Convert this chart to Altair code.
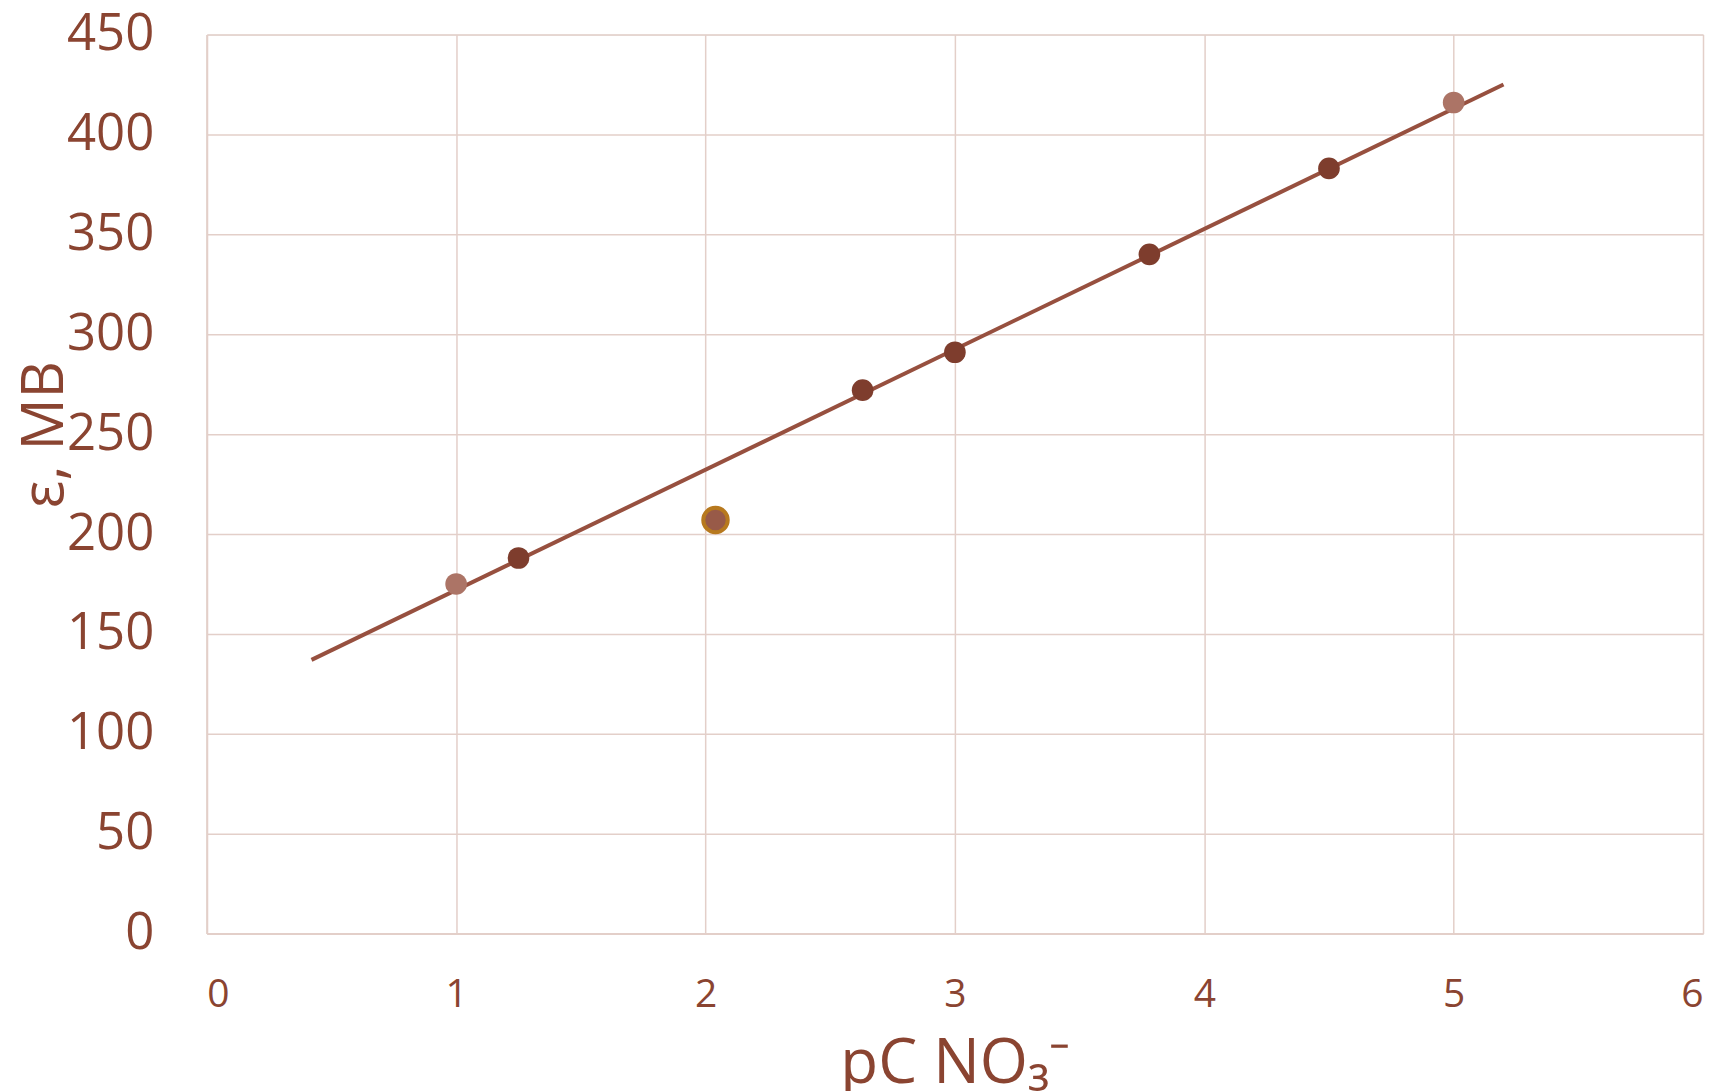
import altair as alt
import pandas as pd

# measured points
pc_values = [1.0, 1.25, 2.63, 3.0, 3.78, 4.5, 5.0]
emf_values = [175, 188, 272, 291, 340, 383, 416]
point_shade = ["light", "dark", "dark", "dark", "dark", "dark", "light"]

# outlier point
outlier_pc = [2.04]
outlier_emf = [207]

# trend line endpoints
trend_pc = [0.42, 5.2]
trend_emf = [137, 425]

x_ticks = [0, 1, 2, 3, 4, 5, 6]
y_ticks = [0, 50, 100, 150, 200, 250, 300, 350, 400, 450]

TEXT = "#8A4431"
GRID = "#E3CFC9"
LINE = "#97503F"

pts = pd.DataFrame({"x": pc_values, "y": emf_values, "shade": point_shade})
out = pd.DataFrame({"x": outlier_pc, "y": outlier_emf})
trend = pd.DataFrame({"x": trend_pc, "y": trend_emf})

xs = alt.Scale(domain=[0, 6], nice=False, zero=False)
ys = alt.Scale(domain=[0, 450], nice=False)

xaxis = alt.Axis(
    values=x_ticks, format="d", title="pC NO₃⁻", grid=True, gridColor=GRID,
    gridWidth=1.5, domainColor=GRID, domainWidth=2, ticks=False,
    labelFont="Open Sans", labelFontSize=39, labelColor=TEXT, labelPadding=42,
    titleFont="Open Sans", titleFontSize=62, titleColor=TEXT, titleFontWeight="normal",
    titlePadding=19,
)
yaxis = alt.Axis(
    values=y_ticks, format="d", title="ε, МВ", grid=True, gridColor=GRID,
    gridWidth=1.5, domainColor=GRID, domainWidth=2, ticks=False,
    labelFont="Open Sans", labelFontSize=51, labelColor=TEXT, labelPadding=53,
    titleFont="Open Sans", titleFontSize=58, titleColor=TEXT, titleFontWeight="normal",
    titleAngle=-90, titleX=-161, titleY=400, titleBaseline="middle", titleAlign="center",
)

line = alt.Chart(trend).mark_line(color=LINE, strokeWidth=4).encode(
    x=alt.X("x:Q", scale=xs, axis=xaxis),
    y=alt.Y("y:Q", scale=ys, axis=yaxis),
)

points = alt.Chart(pts).mark_circle(size=470, opacity=1).encode(
    x=alt.X("x:Q", scale=xs),
    y=alt.Y("y:Q", scale=ys),
    color=alt.Color("shade:N", scale=alt.Scale(domain=["dark", "light"], range=["#7E3D2D", "#AC7466"]), legend=None),
)

outlier = alt.Chart(out).mark_point(size=600, filled=True, fill="#985A48", stroke="#B7791E", strokeWidth=4, opacity=1, shape="circle").encode(
    x=alt.X("x:Q", scale=xs),
    y=alt.Y("y:Q", scale=ys),
)

chart = (line + points + outlier).properties(
    width=1498, height=900,
    padding={"left": 9, "top": 0, "right": 8, "bottom": 0},
).configure_view(stroke=None).configure(background="white")

chart.save("out.html", embed_options={"renderer": "svg", "actions": False})
